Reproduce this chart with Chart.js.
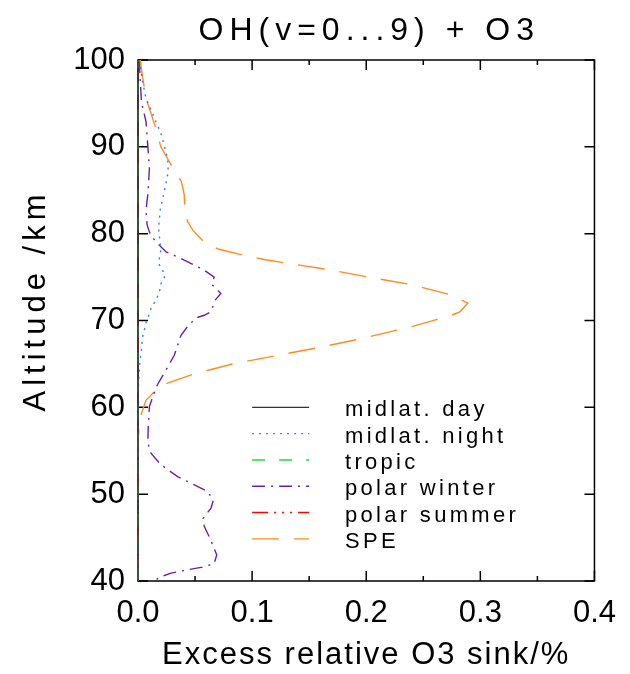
<!DOCTYPE html>
<html>
<head>
<meta charset="utf-8">
<script src="https://cdn.jsdelivr.net/npm/chart.js@4.4.0/dist/chart.umd.min.js"></script>
<style>
  html, body { margin: 0; padding: 0; background: #fff; }
  #caixa { width: 630px; height: 674px; }
</style>
</head>
<body>
<div id="caixa"><canvas id="grafico" width="630" height="674"></canvas></div>
<script>
// dados (altitude em km, excesso em %)
let rotulos = ["midlat. day", "midlat. night", "tropic", "polar winter", "polar summer", "SPE"];

let altPlana = [40, 100];
let valDia = [0, 0];
let valTropico = [0, 0];
let valVerao = [0, 0];

let altNoite = [100, 97.5, 95.6, 93.3, 91.6, 89.4, 87.9, 86.8, 84.8, 82.9,
  80.6, 78.1, 76.6, 75.2, 74.2, 73.3, 72.4, 71.4, 69.7, 68.1,
  66.6, 65.1, 63, 60, 40];
let valNoite = [0.001, 0.004, 0.007, 0.0144, 0.020, 0.0246, 0.0266, 0.026, 0.023, 0.0196,
  0.018, 0.020, 0.018, 0.024, 0.020, 0.0188, 0.0159, 0.0115, 0.007, 0.004,
  0.003, 0.0015, 0.0005, 0, 0];

let altInverno = [100, 95.2, 92.9, 89.4, 87.5, 84.5, 82.7, 81.0, 79.8, 78.9,
  77.9, 77.3, 76.4, 75.8, 75.0, 74.1, 73.1, 72.4, 71.0, 70.6,
  70.3, 69.3, 68.3, 66.0, 64.3, 62.6, 61.2, 60.1, 57.8, 55.9,
  54.7, 53.4, 52.0, 51.1, 50.3, 49.3, 48.4, 47.2, 46.3, 45.1,
  44.0, 43.0, 42.0, 41.6, 41.3, 40.9, 40.5, 40.0];
let valInverno = [0.001, 0.003, 0.007, 0.009, 0.010, 0.0086, 0.007, 0.008, 0.011, 0.017,
  0.0246, 0.035, 0.049, 0.058, 0.0667, 0.065, 0.0726, 0.068, 0.0638, 0.058,
  0.0508, 0.0434, 0.0377, 0.0318, 0.0246, 0.017, 0.013, 0.010, 0.009, 0.0086,
  0.0115, 0.020, 0.035, 0.049, 0.061, 0.066, 0.064, 0.057, 0.058, 0.0624,
  0.066, 0.069, 0.0667, 0.0565, 0.0434, 0.029, 0.020, 0.014];

let altSpe = [100, 98, 96.5, 95, 92, 90, 87.7, 86, 84.5, 83,
  81.4, 80.4, 79, 78.2, 77.5, 77, 76.6, 75.9, 75, 74.2,
  73, 72, 71, 70.6, 70.1, 69.3, 67.8, 66.8, 65.9, 65,
  63.8, 62.8, 61.8, 60.8, 59.3, 58, 56, 40];
let valSpe = [0.002, 0.004, 0.006, 0.0085, 0.016, 0.020, 0.030, 0.038, 0.0405, 0.041,
  0.0435, 0.048, 0.058, 0.071, 0.093, 0.112, 0.130, 0.1655, 0.202, 0.237,
  0.273, 0.289, 0.282, 0.2745, 0.2615, 0.240, 0.192, 0.155, 0.119, 0.083,
  0.048, 0.026, 0.0144, 0.007, 0.003, 0.001, 0, 0];

let ticksX = [0, 0.1, 0.2, 0.3, 0.4];
let ticksY = [40, 50, 60, 70, 80, 90, 100];

let fonte = "'Liberation Sans', Arial, sans-serif";

function pontos(alts, vals) {
  return alts.map((a, i) => ({ x: vals[i], y: a }));
}

function serie(nome, alts, vals, cor, traco) {
  return {
    label: nome,
    data: pontos(alts, vals),
    borderColor: cor,
    borderWidth: 1.4,
    borderDash: traco,
    pointRadius: 0,
    showLine: true,
    tension: 0,
    fill: false,
    clip: false
  };
}

// texto com espacamento entre letras nos titulos dos eixos
function espacado(fn, esp, dy) {
  return function () {
    let c = this.ctx;
    c.save();
    c.letterSpacing = esp;
    c.translate(0, dy);
    fn.apply(this, arguments);
    c.restore();
  };
}

let molduraPlugin = {
  id: "moldura",
  beforeDraw(chart) {
    let sx = chart.scales.x, sy = chart.scales.y;
    if (!sx._esp) { sx.drawTitle = espacado(sx.drawTitle, "2px", 0); sx._esp = true; }
    if (!sy._esp) { sy.drawTitle = espacado(sy.drawTitle, "5px", -20); sy._esp = true; }
  },
  beforeDatasetsDraw(chart) {
    let ctx = chart.ctx;
    let a = chart.chartArea;
    let sx = chart.scales.x, sy = chart.scales.y;
    ctx.save();
    ctx.strokeStyle = "#000";
    ctx.lineWidth = 1.5;
    ctx.strokeRect(a.left, a.top, a.right - a.left, a.bottom - a.top);
    // marcas do eixo x (principais e secundarias), para dentro
    for (let k = 0; k <= 8; k++) {
      let v = k * 0.05;
      let px = sx.getPixelForValue(v);
      let len = k % 2 == 0 ? 10 : 5;
      ctx.beginPath();
      ctx.moveTo(px, a.bottom); ctx.lineTo(px, a.bottom - len);
      ctx.moveTo(px, a.top); ctx.lineTo(px, a.top + len);
      ctx.stroke();
    }
    for (let t of ticksY) {
      let py = sy.getPixelForValue(t);
      ctx.beginPath();
      ctx.moveTo(a.left, py); ctx.lineTo(a.left + 10, py);
      ctx.moveTo(a.right, py); ctx.lineTo(a.right - 10, py);
      ctx.stroke();
    }
    ctx.restore();
  },
  afterDraw(chart) {
    let ctx = chart.ctx;
    let a = chart.chartArea;
    let sx = chart.scales.x, sy = chart.scales.y;
    ctx.save();
    // titulo
    ctx.fillStyle = "#000";
    ctx.font = "32px " + fonte;
    ctx.letterSpacing = "6px";
    ctx.textAlign = "center";
    ctx.textBaseline = "middle";
    ctx.fillText("OH(v=0...9) + O3", (a.left + a.right) / 2 + 3, 31);
    // legenda dentro do grafico
    let x1 = sx.getPixelForValue(0.1), x2 = sx.getPixelForValue(0.15);
    let y0 = sy.getPixelForValue(60);
    ctx.font = "22px " + fonte;
    ctx.letterSpacing = "3.3px";
    ctx.textAlign = "left";
    chart.data.datasets.forEach((ds, i) => {
      let y = y0 + i * 26.3;
      ctx.strokeStyle = ds.borderColor;
      ctx.lineWidth = ds.borderWidth;
      ctx.setLineDash(ds.borderDash);
      ctx.beginPath();
      ctx.moveTo(x1, y); ctx.lineTo(x2, y);
      ctx.stroke();
      ctx.setLineDash([]);
      ctx.fillStyle = "#000";
      ctx.fillText(ds.label, 345, y + 3);
    });
    ctx.restore();
  }
};

let ctx = document.getElementById("grafico");

new Chart(ctx, {
  type: "scatter",
  data: {
    datasets: [
      serie(rotulos[0], altPlana, valDia, "#333333", []),
      serie(rotulos[1], altNoite, valNoite, "#3c78ff", [2, 5]),
      serie(rotulos[2], altPlana, valTropico, "#22dd33", [13, 14]),
      serie(rotulos[3], altInverno, valInverno, "#6a1fb0", [13, 6, 2, 6]),
      serie(rotulos[4], altPlana, valVerao, "#ff0000", [16, 6, 2, 6, 2, 6, 2, 6]),
      serie(rotulos[5], altSpe, valSpe, "#ff8a1e", [27, 15])
    ]
  },
  options: {
    responsive: false,
    animation: false,
    layout: { padding: { top: 60, right: 33, left: 0, bottom: 0 } },
    plugins: {
      legend: { display: false },
      tooltip: { enabled: false },
      title: { display: false }
    },
    scales: {
      x: {
        type: "linear",
        min: 0,
        max: 0.4,
        afterFit(s) { s.height = 93; },
        afterBuildTicks(s) { s.ticks = ticksX.map(v => ({ value: v })); },
        grid: { display: false, drawTicks: false },
        border: { display: false },
        ticks: {
          color: "#000",
          padding: 14,
          maxRotation: 0,
          font: { family: fonte, size: 31 },
          callback: v => v.toFixed(1)
        },
        title: {
          display: true,
          text: "Excess relative O3 sink/%",
          color: "#000",
          font: { family: fonte, size: 31 },
          padding: { top: 0, bottom: 0 }
        }
      },
      y: {
        type: "linear",
        min: 40,
        max: 100,
        afterFit(s) { s.width = 138; },
        afterBuildTicks(s) { s.ticks = ticksY.map(v => ({ value: v })); },
        grid: { display: false, drawTicks: false },
        border: { display: false },
        ticks: {
          color: "#000",
          padding: 13,
          font: { family: fonte, size: 31 }
        },
        title: {
          display: true,
          text: "Altitude /km",
          color: "#000",
          font: { family: fonte, size: 31 },
          padding: { top: 18, bottom: 0 }
        }
      }
    }
  },
  plugins: [molduraPlugin]
});
</script>
</body>
</html>
